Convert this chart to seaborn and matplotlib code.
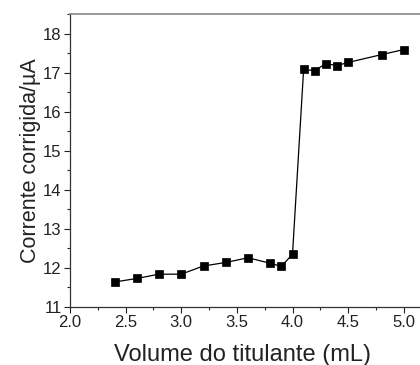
import numpy as np
import pandas as pd
import matplotlib
matplotlib.use("Agg")
import matplotlib.pyplot as plt
import seaborn as sns
from matplotlib.ticker import MultipleLocator

# volume do titulante (mL) e corrente corrigida (uA)
volume = [2.4, 2.6, 2.8, 3.0, 3.2, 3.4, 3.6, 3.8, 3.9, 4.0,
          4.1, 4.2, 4.3, 4.4, 4.5, 4.8, 5.0]
corrente = [11.64, 11.73, 11.84, 11.84, 12.05, 12.14, 12.26, 12.12, 12.04, 12.35,
            17.08, 17.05, 17.23, 17.18, 17.26, 17.46, 17.59]

df = pd.DataFrame({'volume': volume, 'corrente': corrente})

sns.set_style('ticks')
plt.rcParams['font.family'] = ['Liberation Sans', 'DejaVu Sans']

fig = plt.figure(figsize=(4.2, 3.65), dpi=100)
ax = fig.add_axes([70/420, 58/365, 356/420, 293/365])

sns.lineplot(data=df, x='volume', y='corrente', ax=ax, color='black',
             linewidth=0.9, marker='s', markersize=6, markeredgecolor='black',
             markeredgewidth=0.5, zorder=3)

ax.set_xlim(2.0, 5.2)
ax.set_ylim(11, 18.5)
ax.xaxis.set_major_locator(MultipleLocator(0.5))
ax.xaxis.set_minor_locator(MultipleLocator(0.25))
ax.yaxis.set_major_locator(MultipleLocator(1))
ax.yaxis.set_minor_locator(MultipleLocator(0.5))
ax.tick_params(which='major', direction='out', length=4, width=0.8,
               labelsize=12, colors='#222222', pad=2)
ax.tick_params(which='minor', direction='out', length=2.5, width=0.8)

for s in ['left', 'bottom']:
    ax.spines[s].set_color('#333333')
    ax.spines[s].set_linewidth(0.9)
ax.spines['top'].set_color('#888888')
ax.spines['top'].set_linewidth(1.2)
ax.spines['right'].set_visible(False)

ax.set_xlabel('Volume do titulante (mL)', fontsize=17, color='#222222')
ax.set_ylabel('Corrente corrigida/µA', fontsize=15.5, color='#222222')
ax.xaxis.set_label_coords(0.485, -0.125)
ax.yaxis.set_label_coords(-0.082, 0.5)

fig.savefig('out.png', dpi=100)
